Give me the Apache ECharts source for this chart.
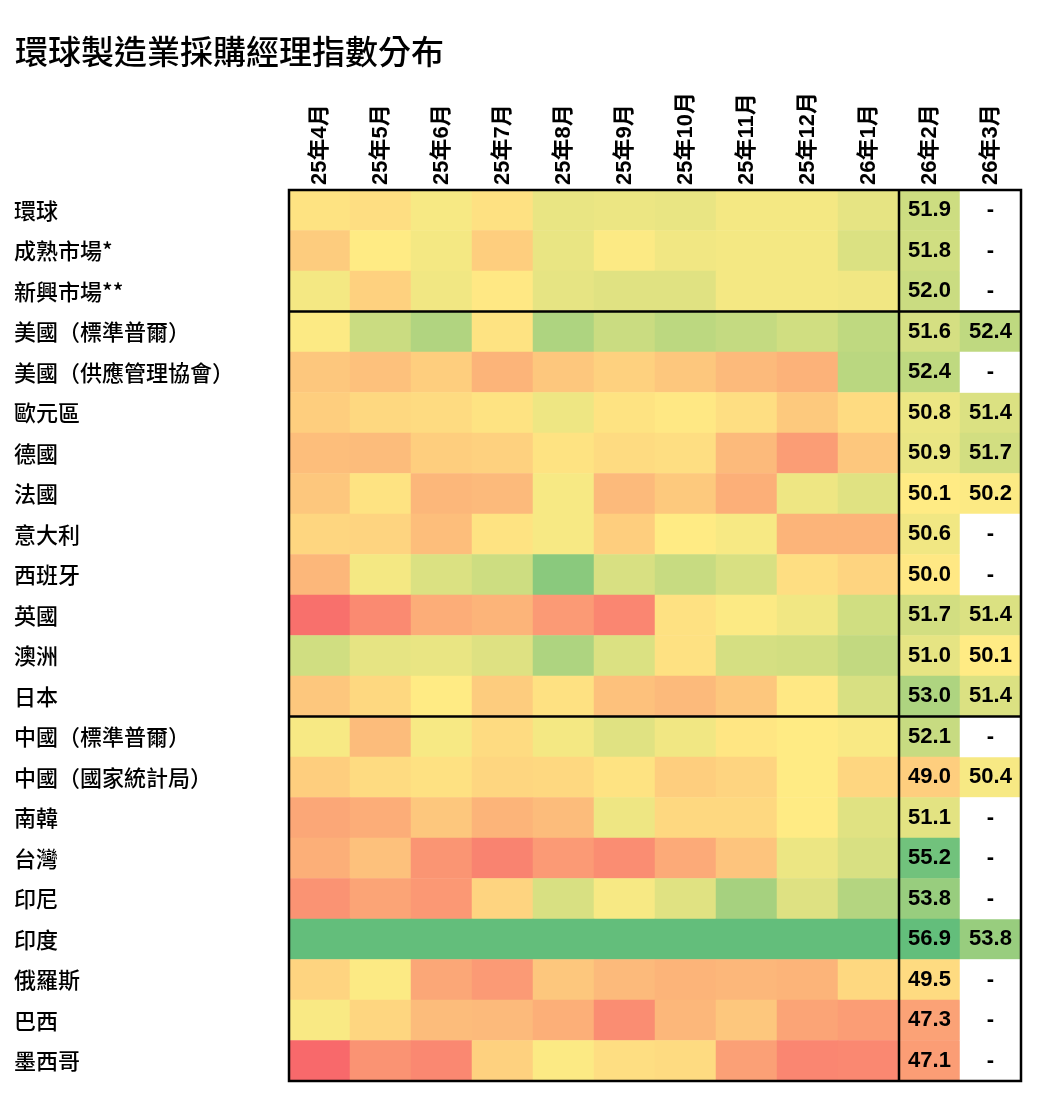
<!DOCTYPE html>
<html><head><meta charset="utf-8">
<script src="https://cdn.jsdelivr.net/npm/echarts@6/dist/echarts.min.js"></script>
<style>html,body{margin:0;padding:0;background:#fff}#c{width:1042px;height:1107px}</style>
</head><body><div id="c"></div>
<script>
const chartTitle = '環球製造業採購經理指數分布';
const months = ['25年4月','25年5月','25年6月','25年7月','25年8月','25年9月','25年10月','25年11月','25年12月','26年1月','26年2月','26年3月'];
const regions = ['環球','成熟市場*','新興市場**','美國（標準普爾）','美國（供應管理協會）','歐元區','德國','法國','意大利','西班牙','英國','澳洲','日本','中國（標準普爾）','中國（國家統計局）','南韓','台灣','印尼','印度','俄羅斯','巴西','墨西哥'];

// values per region, Apr-25 ... Mar-26 (null = not yet released)
const globalPmi = [49.8, 49.6, 50.4, 49.7, 50.9, 50.8, 50.9, 50.5, 50.5, 51.0, 51.9, null];
const mature    = [48.9, 50.1, 50.5, 49.0, 50.9, 50.2, 50.6, 50.5, 50.5, 51.4, 51.8, null];
const emerging  = [50.5, 49.1, 50.6, 50.0, 51.0, 51.2, 51.2, 50.5, 50.5, 50.6, 52.0, null];
const usSP      = [50.2, 52.0, 52.9, 49.8, 53.0, 52.0, 52.5, 52.2, 51.8, 52.4, 51.6, 52.4];
const usISM     = [48.7, 48.5, 49.0, 48.0, 48.7, 49.1, 48.7, 48.2, 47.9, 52.6, 52.4, null];
const eurozone  = [49.0, 49.4, 49.5, 49.8, 50.7, 49.8, 50.0, 49.6, 48.8, 49.5, 50.8, 51.4];
const germany   = [48.4, 48.3, 49.0, 49.1, 49.8, 49.5, 49.6, 48.2, 47.1, 48.7, 50.9, 51.7];
const france    = [48.7, 49.8, 48.1, 48.2, 50.4, 48.2, 48.8, 47.8, 50.7, 51.2, 50.1, 50.2];
const italy     = [49.3, 49.2, 48.4, 49.8, 50.4, 49.0, 50.1, 50.4, 48.0, 48.0, 50.6, null];
const spain     = [48.1, 50.5, 51.4, 51.9, 54.3, 51.5, 52.1, 51.5, 49.6, 49.2, 50.0, null];
const uk        = [45.4, 46.4, 47.7, 48.0, 47.0, 46.2, 49.7, 50.2, 50.6, 51.8, 51.7, 51.4];
const australia = [51.8, 51.0, 50.9, 51.3, 53.0, 51.4, 49.7, 51.6, 51.7, 52.3, 51.0, 50.1];
const japan     = [48.7, 49.4, 50.1, 48.9, 49.7, 48.5, 48.2, 48.7, 50.0, 51.5, 53.0, 51.4];
const chinaSP   = [50.4, 48.3, 50.4, 49.5, 50.5, 51.2, 50.6, 49.9, 50.1, 50.3, 52.1, null];
const chinaNBS  = [49.0, 49.5, 49.7, 49.3, 49.4, 49.8, 49.0, 49.2, 50.1, 49.3, 49.0, 50.4];
const korea     = [47.5, 47.7, 48.7, 48.0, 48.3, 50.7, 49.4, 49.4, 50.1, 51.2, 51.1, null];
const taiwan    = [47.8, 48.5, 46.8, 46.1, 47.0, 46.5, 47.6, 48.6, 50.8, 51.5, 55.2, null];
const indonesia = [46.7, 47.4, 46.9, 49.2, 51.5, 50.4, 51.2, 53.3, 51.3, 52.8, 53.8, null];
const india     = [58.2, 57.6, 58.4, 59.1, 59.3, 57.7, 59.2, 56.6, 55.9, 55.8, 56.9, 53.8];
const russia    = [49.2, 50.2, 47.5, 47.0, 48.7, 48.2, 48.0, 48.1, 48.0, 49.4, 49.5, null];
const brazil    = [50.3, 49.3, 48.3, 48.2, 47.8, 46.5, 48.1, 48.7, 47.4, 47.1, 47.3, null];
const mexico    = [44.8, 46.7, 46.3, 49.1, 50.2, 49.6, 49.5, 47.2, 46.2, 46.3, 47.1, null];

const rows = [globalPmi, mature, emerging, usSP, usISM, eurozone, germany, france, italy, spain, uk, australia, japan, chinaSP, chinaNBS, korea, taiwan, indonesia, india, russia, brazil, mexico];

// group separators (after these regions) and labelled columns start
const rowBreaksAfter = ['新興市場**', '日本'];
const labelledFrom = months.indexOf('26年2月');

// 3-colour scale: red (low) - yellow (50.1) - green (high)
const scaleLow = 45.1, scaleMid = 50.1, scaleHigh = 55.7, scaleStep = 0.2;
function hex(c){return '#'+c.map(v=>Math.round(v).toString(16).padStart(2,'0')).join('');}
function mix(a,b,t){return a.map((v,i)=>v+(b[i]-v)*t);}
const RED=[248,105,107], YEL=[255,235,132], GRN=[99,190,123];
const colorStops = [];
for (let k = 0; scaleLow + k*scaleStep <= scaleHigh + 1e-9; k++) {
  const v = scaleLow + k*scaleStep;
  colorStops.push(v <= scaleMid ? hex(mix(RED, YEL, (v-scaleLow)/(scaleMid-scaleLow)))
                                 : hex(mix(YEL, GRN, (v-scaleMid)/(scaleHigh-scaleMid))));
}

const cells = [], blanks = [];
rows.forEach((vals, r) => vals.forEach((v, c) => {
  if (v === null) blanks.push([c, r, 0]); else cells.push([c, r, v]);
}));

const chart = echarts.init(document.getElementById('c'), null, {renderer: 'canvas'});
const labelFont = {fontSize: 22, fontWeight: 'bold', color: '#000', fontFamily: 'Liberation Sans, Arial, sans-serif'};
chart.setOption({
  animation: false,
  backgroundColor: '#fff',
  title: {text: chartTitle, left: 10, top: 30,
    textStyle: {fontSize: 33, fontWeight: 500, color: '#000', fontFamily: 'Noto Sans CJK TC'}},
  grid: {left: 289, right: 21, top: 190, bottom: 26},
  xAxis: {type: 'category', data: months, position: 'top',
    axisLine: {show: false}, axisTick: {show: false}, splitLine: {show: false},
    axisLabel: {rotate: -90, margin: 5, fontSize: 22, fontWeight: 'bold', color: '#000',
      fontFamily: 'Liberation Sans, Noto Sans CJK TC, sans-serif', interval: 0}},
  yAxis: {type: 'category', data: regions, inverse: true,
    axisLine: {show: false}, axisTick: {show: false}, splitLine: {show: false},
    axisLabel: {align: 'left', margin: 275, fontSize: 22, fontWeight: 500, color: '#000',
      fontFamily: 'Noto Sans CJK TC', interval: 0}},
  visualMap: {type: 'continuous', show: false, seriesIndex: 0, min: scaleLow, max: scaleHigh,
    inRange: {color: colorStops}},
  series: [
    {type: 'heatmap', data: cells, itemStyle: {borderWidth: 0},
      emphasis: {disabled: true},
      label: Object.assign({show: true,
        formatter: p => p.value[0] >= labelledFrom ? p.value[2].toFixed(1) : ''}, labelFont)},
    {type: 'heatmap', data: blanks, itemStyle: {color: '#fff', borderWidth: 0},
      emphasis: {disabled: true},
      label: Object.assign({show: true, formatter: '-'}, labelFont)},
    {type: 'custom', data: [[0, 0]], silent: true, z: 10, clip: false,
      renderItem: function (params, api) {
        const size = api.size([1, 1]);
        const c0 = api.coord([0, 0]);
        const x0 = c0[0] - size[0]/2, y0 = c0[1] - size[1]/2;
        const x1 = x0 + months.length*size[0], y1 = y0 + regions.length*size[1];
        const st = {stroke: '#000', lineWidth: 2.5, fill: null};
        const children = [{type: 'rect', shape: {x: x0, y: y0, width: x1-x0, height: y1-y0}, style: st}];
        const xv = x0 + labelledFrom*size[0];
        children.push({type: 'line', shape: {x1: xv, y1: y0, x2: xv, y2: y1}, style: st});
        rowBreaksAfter.forEach(name => {
          const yv = y0 + (regions.indexOf(name)+1)*size[1];
          children.push({type: 'line', shape: {x1: x0, y1: yv, x2: x1, y2: yv}, style: st});
        });
        return {type: 'group', children: children};
      }}
  ]
});
</script></body></html>
